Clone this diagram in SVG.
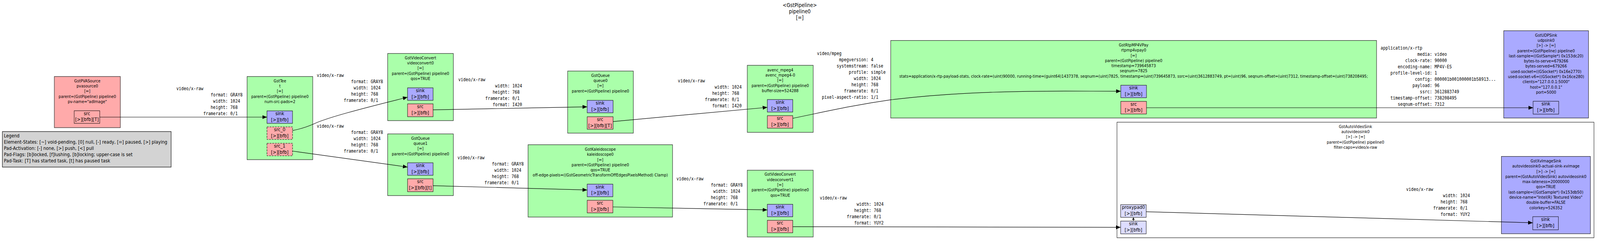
<svg xmlns="http://www.w3.org/2000/svg" width="4507" height="625" viewBox="0 0 4507 625" preserveAspectRatio="none" style="width:100vw;height:100vh;display:block">
<style>
.t{font-family:"DejaVu Sans","Liberation Sans",sans-serif;font-size:10.5px;text-anchor:middle;fill:#000}
.p{font-family:"DejaVu Sans","Liberation Sans",sans-serif;font-size:12.3px;text-anchor:middle;fill:#000}
.ti{font-family:"DejaVu Sans","Liberation Sans",sans-serif;font-size:13.3px;text-anchor:middle;fill:#000}
.lg{font-family:"DejaVu Sans","Liberation Sans",sans-serif;font-size:12px;fill:#000}
.m{font-family:"DejaVu Sans Mono","Liberation Mono",monospace;font-size:11.5px;fill:#000;white-space:pre}
.el{fill:#aaffaa;stroke:#222;stroke-width:1.2}
.es{fill:#ffaaaa;stroke:#222;stroke-width:1.2}
.ek{fill:#aaaaff;stroke:#222;stroke-width:1.2}
.bin{fill:#ffffff;stroke:#222;stroke-width:1.2}
.ps{fill:#ffaaaa;stroke:#000;stroke-width:1}
.pk{fill:#aaaaff;stroke:#000;stroke-width:1}
.pg{fill:#ddddff;stroke:#000;stroke-width:1}
.rq{stroke-dasharray:5,2.5}
.e{fill:none;stroke:#000;stroke-width:1.2;marker-end:url(#ah)}
</style>
<defs>
<marker id="ah" markerUnits="userSpaceOnUse" markerWidth="13" markerHeight="10" refX="13" refY="5" orient="auto">
<path d="M0,0 L13,5 L0,10 z" fill="#000"/>
</marker>
</defs>
<rect x="0" y="0" width="4507" height="625" fill="#ffffff"/>

<g id="title">
<text class="ti" x="2253" y="17.7">&lt;GstPipeline&gt;</text>
<text class="ti" x="2253" y="33.7">pipeline0</text>
<text class="ti" x="2253" y="49.7">[=]</text>
</g>

<g id="legend">
<rect x="6.7" y="337" width="475.3" height="91" fill="#d3d3d3" stroke="#000" stroke-width="1.2"/>
<text class="lg" x="11" y="352.5">Legend</text>
<text class="lg" x="11" y="368.5">Element-States: [~] void-pending, [0] null, [-] ready, [=] paused, [&gt;] playing</text>
<text class="lg" x="11" y="384.5">Pad-Activation: [-] none, [&gt;] push, [&lt;] pull</text>
<text class="lg" x="11" y="400.5">Pad-Flags: [b]locked, [f]lushing, [b]locking; upper-case is set</text>
<text class="lg" x="11" y="416.5">Pad-Task: [T] has started task, [t] has paused task</text>
</g>

<g id="pvasource0">
<rect class="es" x="153" y="196" width="186" height="131"/>
<text class="t" x="246" y="210.7">GstPVASource<tspan x="246" dy="13.3">pvasource0</tspan><tspan x="246" dy="13.3">[=]</tspan><tspan x="246" dy="13.3">parent=(GstPipeline) pipeline0</tspan><tspan x="246" dy="13.3">pv-name="adImage"</tspan></text>
<rect class="ps" x="209" y="283.7" width="72" height="32.3"/>
<text class="p" x="245" y="294.7">src<tspan x="245" dy="15.6">[&gt;][bfb][T]</tspan></text>
</g>

<g id="t">
<rect class="el" x="696" y="196" width="185" height="213"/>
<text class="t" x="788.5" y="210.7">GstTee<tspan x="788.5" dy="13.3">t</tspan><tspan x="788.5" dy="13.3">[=]</tspan><tspan x="788.5" dy="13.3">parent=(GstPipeline) pipeline0</tspan><tspan x="788.5" dy="13.3">num-src-pads=2</tspan></text>
<rect class="pk" x="752" y="284" width="72" height="32"/>
<text class="p" x="788" y="295">sink<tspan x="788" dy="15.6">[&gt;][bfb]</tspan></text>
<rect class="ps rq" x="752" y="325" width="72" height="32"/>
<text class="p" x="788" y="336">src_0<tspan x="788" dy="15.6">[&gt;][bfb]</tspan></text>
<rect class="ps rq" x="752" y="367" width="72" height="32"/>
<text class="p" x="788" y="378">src_1<tspan x="788" dy="15.6">[&gt;][bfb]</tspan></text>
</g>

<g id="videoconvert0">
<rect class="el" x="1092" y="137" width="185" height="172"/>
<text class="t" x="1184.5" y="151.7">GstVideoConvert<tspan x="1184.5" dy="13.3">videoconvert0</tspan><tspan x="1184.5" dy="13.3">[=]</tspan><tspan x="1184.5" dy="13.3">parent=(GstPipeline) pipeline0</tspan><tspan x="1184.5" dy="13.3">qos=TRUE</tspan></text>
<rect class="pk" x="1148" y="225" width="72" height="32"/>
<text class="p" x="1184" y="236">sink<tspan x="1184" dy="15.6">[&gt;][bfb]</tspan></text>
<rect class="ps" x="1148" y="266" width="72" height="33"/>
<text class="p" x="1184" y="277">src<tspan x="1184" dy="15.6">[&gt;][bfb]</tspan></text>
</g>

<g id="queue1">
<rect class="el" x="1092" y="343" width="185" height="158"/>
<text class="t" x="1184.5" y="357.7">GstQueue<tspan x="1184.5" dy="13.3">queue1</tspan><tspan x="1184.5" dy="13.3">[=]</tspan><tspan x="1184.5" dy="13.3">parent=(GstPipeline) pipeline0</tspan></text>
<rect class="pk" x="1148" y="417" width="72" height="32"/>
<text class="p" x="1184" y="428">sink<tspan x="1184" dy="15.6">[&gt;][bfb]</tspan></text>
<rect class="ps" x="1148" y="458" width="72" height="33"/>
<text class="p" x="1184" y="469">src<tspan x="1184" dy="15.6">[&gt;][bfb][t]</tspan></text>
</g>

<g id="queue0">
<rect class="el" x="1599" y="182" width="185" height="159"/>
<text class="t" x="1691.5" y="196.7">GstQueue<tspan x="1691.5" dy="13.3">queue0</tspan><tspan x="1691.5" dy="13.3">[=]</tspan><tspan x="1691.5" dy="13.3">parent=(GstPipeline) pipeline0</tspan></text>
<rect class="pk" x="1654" y="257" width="73" height="32"/>
<text class="p" x="1690.5" y="268">sink<tspan x="1690.5" dy="15.6">[&gt;][bfb]</tspan></text>
<rect class="ps" x="1654" y="299" width="73" height="32"/>
<text class="p" x="1690.5" y="310">src<tspan x="1690.5" dy="15.6">[&gt;][bfb][T]</tspan></text>
</g>

<g id="kaleidoscope0">
<rect class="el" x="1487.5" y="370.7" width="407" height="185.3"/>
<text class="t" x="1691" y="386">GstKaleidoscope<tspan x="1691" dy="13.3">kaleidoscope0</tspan><tspan x="1691" dy="13.3">[=]</tspan><tspan x="1691" dy="13.3">parent=(GstPipeline) pipeline0</tspan><tspan x="1691" dy="13.3">qos=TRUE</tspan><tspan x="1691" dy="13.3">off-edge-pixels=((GstGeometricTransformOffEdgesPixelsMethod) Clamp)</tspan></text>
<rect class="pk" x="1654" y="471.7" width="72.4" height="32.3"/>
<text class="p" x="1690.2" y="482.7">sink<tspan x="1690.2" dy="15.6">[&gt;][bfb]</tspan></text>
<rect class="ps" x="1654" y="513" width="72.4" height="32.3"/>
<text class="p" x="1690.2" y="524">src<tspan x="1690.2" dy="15.6">[&gt;][bfb]</tspan></text>
</g>

<g id="avenc_mpeg4-0">
<rect class="el" x="2105" y="167.3" width="185.7" height="171.7"/>
<text class="t" x="2197.8" y="182.7">avenc_mpeg4<tspan x="2197.8" dy="13.3">avenc_mpeg4-0</tspan><tspan x="2197.8" dy="13.3">[=]</tspan><tspan x="2197.8" dy="13.3">parent=(GstPipeline) pipeline0</tspan><tspan x="2197.8" dy="13.3">buffer-size=524288</tspan></text>
<rect class="pk" x="2161.4" y="255" width="71.8" height="32"/>
<text class="p" x="2197.3" y="266">sink<tspan x="2197.3" dy="15.6">[&gt;][bfb]</tspan></text>
<rect class="ps" x="2161.4" y="296.3" width="71.8" height="32"/>
<text class="p" x="2197.3" y="307.3">src<tspan x="2197.3" dy="15.6">[&gt;][bfb]</tspan></text>
</g>

<g id="videoconvert1">
<rect class="el" x="2105" y="436" width="185.7" height="171"/>
<text class="t" x="2197.8" y="450.4">GstVideoConvert<tspan x="2197.8" dy="13.3">videoconvert1</tspan><tspan x="2197.8" dy="13.3">[=]</tspan><tspan x="2197.8" dy="13.3">parent=(GstPipeline) pipeline0</tspan><tspan x="2197.8" dy="13.3">qos=TRUE</tspan></text>
<rect class="pk" x="2161.4" y="523.3" width="71.8" height="32"/>
<text class="p" x="2197.3" y="534.3">sink<tspan x="2197.3" dy="15.6">[&gt;][bfb]</tspan></text>
<rect class="ps" x="2161.4" y="564.3" width="71.8" height="32"/>
<text class="p" x="2197.3" y="575.3">src<tspan x="2197.3" dy="15.6">[&gt;][bfb]</tspan></text>
</g>

<g id="rtpmp4vpay0">
<rect class="el" x="2509" y="103.7" width="1368.6" height="198.6"/>
<text class="t" x="3193.3" y="119">GstRtpMP4VPay<tspan x="3193.3" dy="13.3">rtpmp4vpay0</tspan><tspan x="3193.3" dy="13.3">[=]</tspan><tspan x="3193.3" dy="13.3">parent=(GstPipeline) pipeline0</tspan><tspan x="3193.3" dy="13.3">timestamp=739645873</tspan><tspan x="3193.3" dy="13.3">seqnum=7825</tspan><tspan x="3193.3" dy="13.3">stats=application/x-rtp-payload-stats, clock-rate=(uint)90000, running-time=(guint64)1437378, seqnum=(uint)7825, timestamp=(uint)739645873, ssrc=(uint)3612883749, pt=(uint)96, seqnum-offset=(uint)7312, timestamp-offset=(uint)738208495;</tspan></text>
<rect class="pk" x="3157.1" y="218.3" width="72.4" height="32"/>
<text class="p" x="3193.3" y="229.3">sink<tspan x="3193.3" dy="15.6">[&gt;][bfb]</tspan></text>
<rect class="ps" x="3157.1" y="259.7" width="72.4" height="32.3"/>
<text class="p" x="3193.3" y="270.7">src<tspan x="3193.3" dy="15.6">[&gt;][bfb]</tspan></text>
</g>

<g id="udpsink0">
<rect class="ek" x="4235.8" y="78.7" width="238.8" height="223.6"/>
<text class="t" x="4355.2" y="93.7">GstUDPSink<tspan x="4355.2" dy="13.3">udpsink0</tspan><tspan x="4355.2" dy="13.3">[&gt;] -&gt; [=]</tspan><tspan x="4355.2" dy="13.3">parent=(GstPipeline) pipeline0</tspan><tspan x="4355.2" dy="13.3">last-sample=((GstSample*) 0x153dc20)</tspan><tspan x="4355.2" dy="13.3">bytes-to-serve=679266</tspan><tspan x="4355.2" dy="13.3">bytes-served=679266</tspan><tspan x="4355.2" dy="13.3">used-socket=((GSocket*) 0x16e2770)</tspan><tspan x="4355.2" dy="13.3">used-socket-v6=((GSocket*) 0x16ce280)</tspan><tspan x="4355.2" dy="13.3">clients="127.0.0.1:5000"</tspan><tspan x="4355.2" dy="13.3">host="127.0.0.1"</tspan><tspan x="4355.2" dy="13.3">port=5000</tspan></text>
<rect class="pk" x="4318.6" y="259.3" width="72.1" height="33"/>
<text class="p" x="4354.6" y="270.3">sink<tspan x="4354.6" dy="15.6">[&gt;][bfb]</tspan></text>
</g>

<g id="autovideosink0">
<rect class="bin" x="3146.4" y="313" width="1343.6" height="296"/>
<text class="t" x="3818.2" y="327.7">GstAutoVideoSink<tspan x="3818.2" dy="13.3">autovideosink0</tspan><tspan x="3818.2" dy="13.3">[&gt;] -&gt; [=]</tspan><tspan x="3818.2" dy="13.3">parent=(GstPipeline) pipeline0</tspan><tspan x="3818.2" dy="13.3">filter-caps=video/x-raw</tspan></text>
<rect class="pg" x="3156.7" y="524.3" width="72" height="32.4"/>
<text class="p" x="3192.7" y="535.3">proxypad0<tspan x="3192.7" dy="15.6">[&gt;][bfb]</tspan></text>
<rect class="pg" x="3156.7" y="566.3" width="72" height="32.7"/>
<text class="p" x="3192.7" y="577.3">sink<tspan x="3192.7" dy="15.6">[&gt;][bfb]</tspan></text>
</g>

<g id="autovideosink0-actual-sink-xvimage">
<rect class="ek" x="4229.2" y="400.7" width="250.8" height="198"/>
<text class="t" x="4354.6" y="416">GstXvImageSink<tspan x="4354.6" dy="13.3">autovideosink0-actual-sink-xvimage</tspan><tspan x="4354.6" dy="13.3">[&gt;] -&gt; [=]</tspan><tspan x="4354.6" dy="13.3">parent=(GstAutoVideoSink) autovideosink0</tspan><tspan x="4354.6" dy="13.3">max-lateness=20000000</tspan><tspan x="4354.6" dy="13.3">qos=TRUE</tspan><tspan x="4354.6" dy="13.3">last-sample=((GstSample*) 0x153db50)</tspan><tspan x="4354.6" dy="13.3">device-name="Intel(R) Textured Video"</tspan><tspan x="4354.6" dy="13.3">double-buffer=FALSE</tspan><tspan x="4354.6" dy="13.3">colorkey=526352</tspan></text>
<rect class="pk" x="4317.6" y="555" width="72.1" height="33.7"/>
<text class="p" x="4353.6" y="566">sink<tspan x="4353.6" dy="15.6">[&gt;][bfb]</tspan></text>
</g>

<g id="edges">
<path class="e" d="M281,300 L752,300"/>
<path class="e" d="M824,334.3 C850,330 870,323 885,317 C920,302 1010,280 1148,249"/>
<path class="e" d="M824,387 L1148,428"/>
<path class="e" d="M1220,281.3 C1400,279 1500,276 1654,273.6"/>
<path class="e" d="M1220,475.7 L1654,486.7"/>
<path class="e" d="M1726.7,311.3 C1800,305 1900,296 2161.4,275"/>
<path class="e" d="M1726.4,530 C1850,532 2000,535 2161.4,537.7"/>
<path class="e" d="M2233.2,303 C2330,285 2400,270 2508.8,255.7 C2650,240 2800,233.3 3000,233.3 L3157.1,233.7"/>
<path class="e" d="M3229.5,276 L4318.6,276"/>
<path class="e" d="M2233.2,580.7 C2600,581 2900,582 3156.7,582.3"/>
<path fill="none" stroke="#000" stroke-width="1.2" d="M3192.7,567 L3192.7,562"/>
<path fill="#000" d="M3192.7,556.7 L3196.2,563 L3189.2,563 z"/>
<path class="e" d="M3228.7,542.3 L4317.6,570.7"/>
</g>

<g id="edge-labels" xml:space="preserve">
<text class="m" y="230.7"><tspan x="496.7">video/x-raw</tspan><tspan x="496.7" dy="16">              format: GRAY8</tspan><tspan x="496.7" dy="16">               width: 1024</tspan><tspan x="496.7" dy="16">              height: 768</tspan><tspan x="496.7" dy="16">           framerate: 0/1</tspan></text>
<text class="m" y="196.7"><tspan x="892.3">video/x-raw</tspan><tspan x="892.3" dy="16">              format: GRAY8</tspan><tspan x="892.3" dy="16">               width: 1024</tspan><tspan x="892.3" dy="16">              height: 768</tspan><tspan x="892.3" dy="16">           framerate: 0/1</tspan></text>
<text class="m" y="326.7"><tspan x="892.3">video/x-raw</tspan><tspan x="892.3" dy="16">              format: GRAY8</tspan><tspan x="892.3" dy="16">               width: 1024</tspan><tspan x="892.3" dy="16">              height: 768</tspan><tspan x="892.3" dy="16">           framerate: 0/1</tspan></text>
<text class="m" y="208.5"><tspan x="1291">video/x-raw</tspan><tspan x="1291" dy="16">               width: 1024</tspan><tspan x="1291" dy="16">              height: 768</tspan><tspan x="1291" dy="16">           framerate: 0/1</tspan><tspan x="1291" dy="16">              format: I420</tspan></text>
<text class="m" y="407.7"><tspan x="1288.8">video/x-raw</tspan><tspan x="1288.8" dy="16">              format: GRAY8</tspan><tspan x="1288.8" dy="16">               width: 1024</tspan><tspan x="1288.8" dy="16">              height: 768</tspan><tspan x="1288.8" dy="16">           framerate: 0/1</tspan></text>
<text class="m" y="211.3"><tspan x="1909.5">video/x-raw</tspan><tspan x="1909.5" dy="16">               width: 1024</tspan><tspan x="1909.5" dy="16">              height: 768</tspan><tspan x="1909.5" dy="16">           framerate: 0/1</tspan><tspan x="1909.5" dy="16">              format: I420</tspan></text>
<text class="m" y="462.3"><tspan x="1905.5">video/x-raw</tspan><tspan x="1905.5" dy="16">              format: GRAY8</tspan><tspan x="1905.5" dy="16">               width: 1024</tspan><tspan x="1905.5" dy="16">              height: 768</tspan><tspan x="1905.5" dy="16">           framerate: 0/1</tspan></text>
<text class="m" y="140.7"><tspan x="2301.3">video/mpeg</tspan><tspan x="2301.3" dy="16">         mpegversion: 4</tspan><tspan x="2301.3" dy="16">        systemstream: false</tspan><tspan x="2301.3" dy="16">             profile: simple</tspan><tspan x="2301.3" dy="16">               width: 1024</tspan><tspan x="2301.3" dy="16">              height: 768</tspan><tspan x="2301.3" dy="16">           framerate: 0/1</tspan><tspan x="2301.3" dy="16">  pixel-aspect-ratio: 1/1</tspan></text>
<text class="m" y="511"><tspan x="2309.3">video/x-raw</tspan><tspan x="2309.3" dy="16">               width: 1024</tspan><tspan x="2309.3" dy="16">              height: 768</tspan><tspan x="2309.3" dy="16">           framerate: 0/1</tspan><tspan x="2309.3" dy="16">              format: YUY2</tspan></text>
<text class="m" y="126.7"><tspan x="3889">application/x-rtp</tspan><tspan x="3889" dy="16">               media: video</tspan><tspan x="3889" dy="16">          clock-rate: 90000</tspan><tspan x="3889" dy="16">       encoding-name: MP4V-ES</tspan><tspan x="3889" dy="16">    profile-level-id: 1</tspan><tspan x="3889" dy="16">              config: 000001b001000001b58913...</tspan><tspan x="3889" dy="16">             payload: 96</tspan><tspan x="3889" dy="16">                ssrc: 3612883749</tspan><tspan x="3889" dy="16">    timestamp-offset: 738208495</tspan><tspan x="3889" dy="16">       seqnum-offset: 7312</tspan></text>
<text class="m" y="489.3"><tspan x="3961">video/x-raw</tspan><tspan x="3961" dy="16">               width: 1024</tspan><tspan x="3961" dy="16">              height: 768</tspan><tspan x="3961" dy="16">           framerate: 0/1</tspan><tspan x="3961" dy="16">              format: YUY2</tspan></text>
</g>
</svg>
